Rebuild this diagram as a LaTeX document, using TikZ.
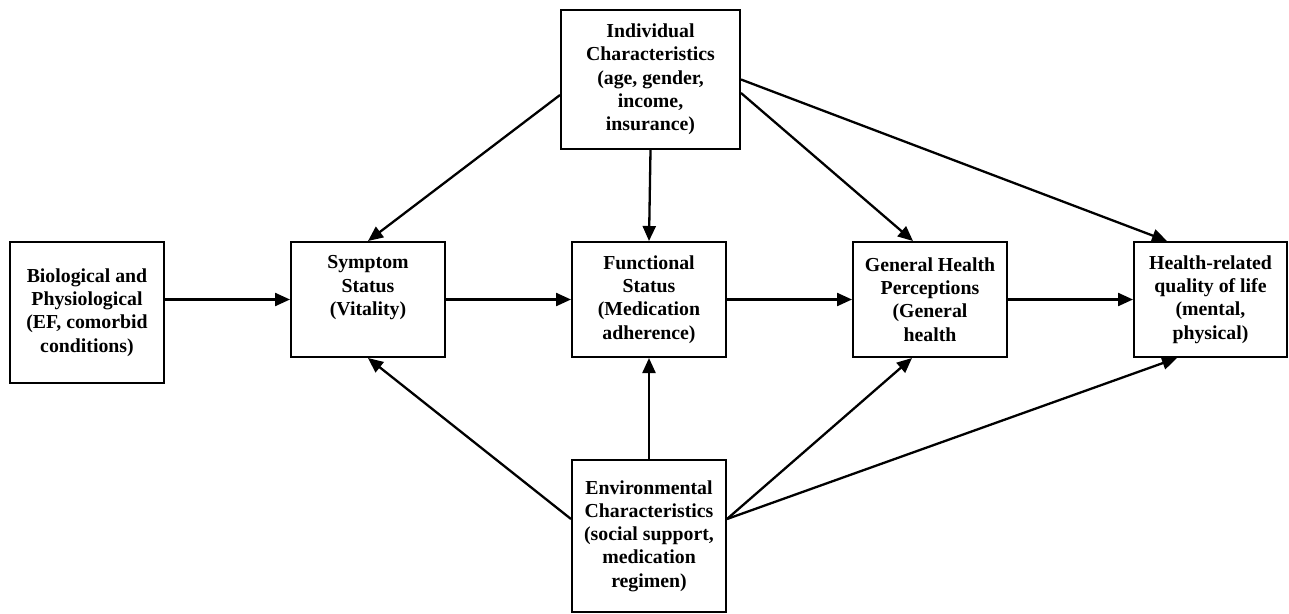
\documentclass[tikz,border=0pt]{standalone}
\usepackage{fontspec}
\setmainfont{Liberation Serif}
\usetikzlibrary{positioning,arrows.meta,calc}
\tikzset{
  box/.style={draw,line width=2pt,align=center,inner sep=2pt,
    font=\bfseries\fontsize{19.8}{23.3}\selectfont,minimum width=154pt,minimum height=115pt},
  link/.style={line width=2.3pt,-{Triangle[length=15pt,width=13pt]}}
}
\begin{document}
\begin{tikzpicture}[x=1pt,y=-1pt]
\useasboundingbox (0,0) rectangle (1289,613);
% middle row
\node[box,minimum height=141pt] (bio) at (87,312.5) {Biological and\\Physiological\\(EF, comorbid\\conditions)};
\node[box,text depth=28pt] (sym) at (368,299.5) {Symptom\\Status\\(Vitality)};
\node[box] (func) at (649,299.5) {Functional\\Status\\(Medication\\adherence)};
\node[box] (gen) at (930,299.5) {General Health\\Perceptions\\(General\\health};
\node[box,minimum width=153pt] (hrq) at (1210.5,299.5) {Health-related\\quality of life\\(mental,\\physical)};
% top and bottom
\node[box,minimum width=179pt,minimum height=139pt] (ind) at (650.5,79.5) {Individual\\Characteristics\\(age, gender,\\income,\\insurance)};
\node[box,minimum height=152pt] (env) at (649,536) {Environmental\\Characteristics\\(social support,\\medication\\regimen)};
% horizontal chain
\draw[link] (bio.east |- sym.west) -- (sym.west);
\draw[link] (sym.east) -- (func.west);
\draw[link] (func.east) -- (gen.west);
\draw[link] (gen.east) -- (hrq.west);
% from individual characteristics
\draw[link] ($(ind.west)+(0,15.5)$) -- (sym.north);
\draw[link] (ind.south) -- (func.north);
\draw[link] ($(ind.east)+(0,13.5)$) -- ($(gen.north)+(-17,0)$);
\draw[link] (ind.east) -- ($(hrq.north)+(-43.5,0)$);
% from environmental characteristics
\draw[link] ($(env.west)+(0,-17)$) -- (sym.south);
\draw[link] (env.north) -- (func.south);
\draw[link] ($(env.east)+(0,-17)$) -- ($(gen.south)+(-18,0)$);
\draw[link] ($(env.east)+(0,-17)$) -- ($(hrq.south)+(-33.5,0)$);
\end{tikzpicture}
\end{document}
